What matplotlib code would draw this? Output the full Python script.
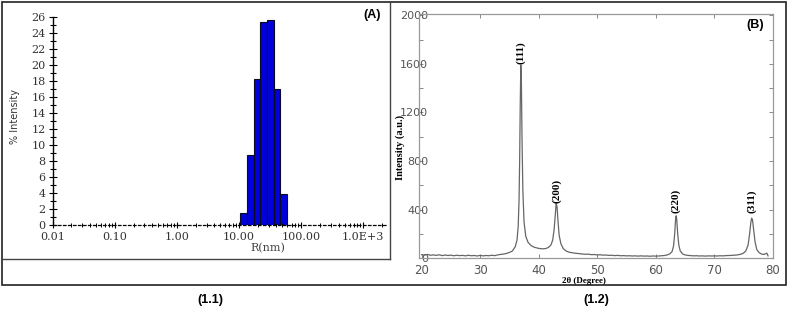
import numpy as np
import matplotlib
matplotlib.use("Agg")
import matplotlib.pyplot as plt
from matplotlib.lines import Line2D
from matplotlib.patches import Rectangle
from matplotlib.ticker import FixedLocator, LogLocator, NullFormatter

# ---- (A) particle size distribution (DLS) ----
bin_edges = [10.5, 13.4, 17.1, 21.9, 28.0, 35.9, 45.9, 58.7]
pct_intensity = [1.5, 8.7, 18.2, 25.4, 25.6, 17.0, 3.85]
r_ticks = [0.01, 0.1, 1, 10, 100, 1000]
r_labels = ["0.01", "0.10", "1.00", "10.00", "100.00", "1.0E+3"]

# ---- (B) XRD pattern ----
two_theta = [20.0, 20.5, 21.0, 21.5, 22.0, 22.5, 23.0, 23.5, 24.0, 24.5, 25.0, 25.5,
             26.0, 26.5, 27.0, 27.5, 28.0, 28.5, 29.0, 29.5, 30.0, 30.5, 31.0, 31.5,
             32.0, 32.5, 33.0, 33.5, 34.0, 34.5, 35.0, 35.5, 36.0, 36.3, 36.5, 36.65,
             36.75, 36.85, 36.95, 37.05, 37.15, 37.3, 37.5, 37.8, 38.2, 38.7, 39.2, 39.7,
             40.2, 40.7, 41.2, 41.7, 42.1, 42.4, 42.65, 42.85, 43.0, 43.15, 43.3, 43.5,
             43.8, 44.2, 44.7, 45.2, 45.7, 46.2, 47.0, 47.5, 48.0, 48.5, 49.0, 49.5,
             50.0, 50.5, 51.0, 51.5, 52.0, 52.5, 53.0, 53.5, 54.0, 54.5, 55.0, 55.5,
             56.0, 56.5, 57.0, 57.5, 58.0, 58.5, 59.0, 59.5, 60.0, 60.5, 61.0, 61.5,
             62.0, 62.4, 62.8, 63.05, 63.25, 63.4, 63.5, 63.6, 63.75, 63.95, 64.2, 64.6,
             65.0, 65.5, 66.0, 66.5, 67.0, 67.5, 68.0, 68.5, 69.0, 69.5, 70.0, 70.5,
             71.0, 71.5, 72.0, 72.5, 73.0, 73.5, 74.0, 74.5, 75.0, 75.4, 75.8, 76.05,
             76.25, 76.4, 76.55, 76.75, 77.0, 77.3, 77.7, 78.1, 78.5, 78.8, 79.0, 79.2]
intensity = [30, 26, 32, 25, 28, 24, 29, 22, 27, 23, 26, 21,
             25, 22, 24, 20, 25, 21, 23, 19, 24, 20, 23, 21,
             25, 22, 28, 32, 35, 40, 48, 60, 95, 150, 260, 480,
             800, 1250, 1590, 1450, 1000, 560, 300, 180, 130, 105, 92, 85,
             80, 78, 80, 90, 110, 150, 240, 360, 455, 420, 310, 190,
             120, 80, 60, 50, 46, 42, 38, 36, 33, 34, 30, 31,
             28, 29, 26, 27, 24, 25, 22, 24, 21, 22, 20, 21,
             19, 20, 18, 20, 18, 19, 17, 19, 18, 19, 21, 23,
             28, 36, 55, 100, 200, 320, 350, 320, 210, 110, 60, 36,
             28, 24, 22, 20, 21, 19, 20, 18, 20, 19, 20, 19,
             21, 20, 22, 23, 24, 26, 28, 33, 42, 60, 110, 200,
             290, 330, 315, 230, 130, 70, 45, 35, 32, 38, 42, 20]
peaks = ["(111)", "(200)", "(220)", "(311)"]
peak_pos = [36.95, 43.0, 63.5, 76.4]
peak_label_y = [1690, 555, 470, 470]

W, H = 787, 311
fig = plt.figure(figsize=(W / 100, H / 100), dpi=100)


def px(x0, y0, x1, y1):
    # pixel box (top-left origin) -> figure rect
    return [x0 / W, 1 - y1 / H, (x1 - x0) / W, (y1 - y0) / H]


# ----- panel A -----
axA = fig.add_axes(px(52.7, 16.7, 388, 225.3))
axA.bar(bin_edges[:-1], pct_intensity, width=np.diff(bin_edges), align="edge",
        color="#0000dc", edgecolor="#0a0a20", linewidth=0.8)
axA.set_xscale("log")
axA.set_xlim(0.01, 2500)
axA.set_ylim(0, 26)
axA.set_xticks(r_ticks)
axA.set_xticklabels(r_labels)
axA.xaxis.set_minor_locator(LogLocator(base=10, subs=np.arange(2, 10)))
axA.xaxis.set_minor_formatter(NullFormatter())
axA.set_yticks(range(0, 27, 2))
axA.yaxis.set_minor_locator(FixedLocator(range(1, 26, 2)))
for s in ["top", "right"]:
    axA.spines[s].set_visible(False)
axA.spines["left"].set_linewidth(1.0)
axA.spines["bottom"].set_linestyle((0, (2, 2)))
axA.spines["bottom"].set_linewidth(0.9)
axA.tick_params(axis="y", which="major", direction="inout", length=6, width=0.8,
                pad=2, labelsize=8, labelcolor="#333333")
axA.tick_params(axis="y", which="minor", direction="inout", length=5, width=0.8)
axA.tick_params(axis="x", which="major", direction="inout", length=4, width=0.8,
                pad=3, labelsize=8, labelcolor="#333333")
axA.tick_params(axis="x", which="minor", direction="inout", length=2.5, width=0.7)
for lab in axA.get_xticklabels() + axA.get_yticklabels():
    lab.set_family("DejaVu Serif")
axA.set_facecolor("none")
fig.text(15 / W, 1 - 116 / H, "% Intensity", rotation=90, ha="center", va="center",
         fontsize=7, color="#333333", family=["Liberation Sans Narrow", "DejaVu Sans"])
fig.text(268 / W, 1 - 248 / H, "R(nm)", ha="center", va="center", fontsize=8,
         color="#444444", family="DejaVu Serif")
fig.text(372 / W, 1 - 15 / H, "(A)", ha="center", va="center", fontsize=9,
         fontweight="bold", family="Liberation Sans")

# ----- panel B -----
axB = fig.add_axes(px(419, 14, 772.7, 258.3))
axB.plot(two_theta, intensity, color="#666666", linewidth=0.9)
axB.set_xlim(19.55, 79.3)
axB.set_ylim(0, 2010)
axB.set_xticks(range(20, 81, 10))
axB.set_yticks(range(0, 2001, 400))
axB.yaxis.set_minor_locator(FixedLocator(range(200, 2001, 400)))
for s in axB.spines.values():
    s.set_color("#999999")
    s.set_linewidth(0.9)
axB.tick_params(axis="both", which="both", direction="in", color="#888888",
                top=True, right=True, width=0.7)
axB.tick_params(axis="both", which="major", length=3)
axB.tick_params(axis="both", which="minor", length=3)
axB.tick_params(axis="y", pad=-6.7, labelsize=8, labelcolor="#555555")
axB.tick_params(axis="x", pad=4, labelsize=8.5, labelcolor="#555555")
for name, xp, yp in zip(peaks, peak_pos, peak_label_y):
    axB.text(xp, yp, name, rotation=90, ha="center", va="center", fontsize=8,
             fontweight="bold", family="Liberation Serif")
axB.set_facecolor("none")
fig.text(400 / W, 1 - 147 / H, "Intensity (a.u.)", rotation=90, ha="center",
         va="center", fontsize=7.5, fontweight="bold", family="Liberation Serif")
fig.text(584 / W, 1 - 281 / H, "2θ (Degree)", ha="center", va="center",
         fontsize=6.5, fontweight="bold", family="Liberation Serif")
fig.text(755 / W, 1 - 25 / H, "(B)", ha="center", va="center", fontsize=9,
         fontweight="bold", family="Liberation Sans")

# ----- frames and captions -----
fig.add_artist(Rectangle((2 / W, 1 - 285 / H), 784 / W, 283 / H, fill=False,
                         edgecolor="#222222", linewidth=1.2,
                         transform=fig.transFigure))
fig.add_artist(Line2D([390 / W, 390 / W], [1 - 2 / H, 1 - 259 / H], color="#444444",
                      linewidth=1.0, transform=fig.transFigure))
fig.add_artist(Line2D([2 / W, 390 / W], [1 - 259 / H, 1 - 259 / H], color="#444444",
                      linewidth=1.0, transform=fig.transFigure))
fig.text(210 / W, 1 - 300 / H, "(1.1)", ha="center", va="center", fontsize=9,
         fontweight="bold", family="Liberation Sans")
fig.text(596 / W, 1 - 300 / H, "(1.2)", ha="center", va="center", fontsize=9,
         fontweight="bold", family="Liberation Sans")

fig.savefig("out.png", dpi=100)
